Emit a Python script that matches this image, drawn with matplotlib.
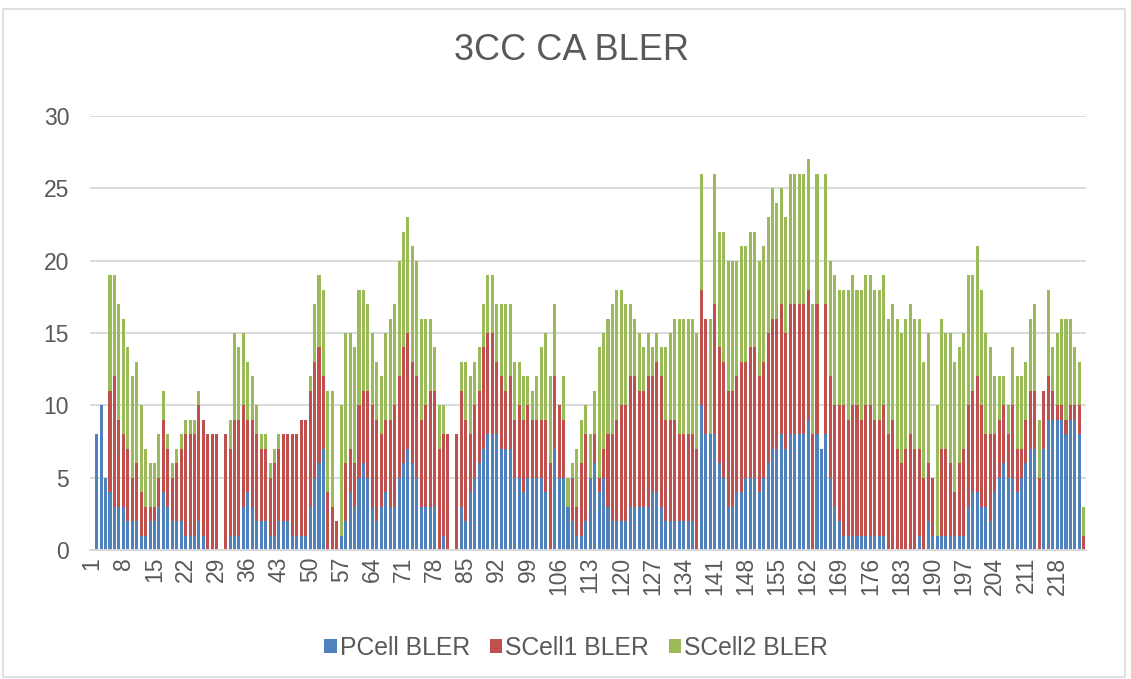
import numpy as np
import matplotlib
matplotlib.use("Agg")
import matplotlib.pyplot as plt
from matplotlib.patches import Rectangle

# categories 1..224, category 1 has no data
pcell = [0, 8, 10, 5, 4, 3, 3, 3, 2, 2, 2, 1, 1, 2, 2, 3, 4, 3, 2, 2,
         2, 1, 1, 1, 2, 1, 0, 0, 0, 0, 0, 1, 1, 1, 3, 4, 3, 2, 2, 2,
         1, 1, 2, 2, 2, 1, 1, 1, 1, 3, 5, 6, 7, 0, 0, 0, 1, 2, 4, 3,
         5, 6, 5, 3, 2, 3, 4, 3, 3, 5, 6, 7, 6, 5, 3, 3, 3, 3, 0, 1,
         0, 0, 0, 3, 2, 4, 5, 6, 7, 8, 8, 8, 7, 7, 7, 5, 5, 4, 5, 5,
         5, 5, 4, 0, 7, 5, 5, 3, 2, 1, 1, 2, 5, 6, 4, 5, 3, 2, 2, 2,
         2, 3, 3, 3, 3, 3, 4, 4, 3, 2, 2, 2, 2, 2, 2, 2, 0, 10, 8, 8,
         8, 6, 5, 3, 3, 4, 4, 5, 5, 5, 4, 5, 6, 7, 7, 8, 7, 8, 8, 8,
         8, 9, 0, 8, 7, 8, 5, 3, 2, 1, 1, 1, 1, 1, 1, 1, 1, 1, 1, 0,
         0, 0, 0, 0, 0, 0, 1, 0, 2, 1, 1, 1, 1, 1, 1, 1, 1, 3, 4, 4,
         3, 3, 2, 4, 5, 6, 5, 5, 4, 5, 6, 7, 7, 0, 7, 9, 9, 9, 9, 8,
         9, 9, 8, 0]
scell1 = [0, 0, 0, 0, 7, 9, 6, 5, 5, 3, 4, 3, 2, 1, 1, 2, 5, 4, 3, 4,
          5, 7, 7, 7, 8, 8, 8, 8, 8, 0, 8, 6, 8, 8, 7, 5, 6, 6, 5, 5,
          4, 5, 5, 6, 6, 7, 7, 8, 8, 8, 8, 8, 5, 4, 3, 2, 0, 4, 3, 3,
          5, 5, 6, 7, 7, 5, 5, 6, 7, 7, 8, 8, 7, 7, 6, 7, 8, 8, 7, 7,
          8, 0, 8, 8, 7, 4, 5, 5, 7, 7, 7, 5, 5, 4, 5, 4, 5, 5, 5, 4,
          4, 4, 5, 6, 5, 5, 4, 0, 3, 2, 5, 6, 0, 2, 1, 2, 5, 6, 7, 8,
          8, 9, 9, 8, 8, 9, 8, 9, 9, 7, 7, 7, 6, 6, 6, 6, 7, 8, 8, 0,
          9, 8, 8, 8, 8, 8, 9, 8, 9, 9, 8, 8, 9, 9, 9, 9, 8, 9, 9, 9,
          9, 9, 8, 9, 0, 9, 7, 7, 8, 9, 8, 9, 9, 8, 9, 9, 8, 8, 9, 8,
          9, 7, 6, 7, 8, 7, 6, 5, 4, 4, 0, 6, 6, 5, 3, 5, 6, 7, 7, 8,
          7, 5, 6, 4, 4, 4, 3, 5, 3, 2, 3, 4, 4, 5, 4, 3, 2, 1, 1, 1,
          1, 1, 2, 1]
scell2 = [0, 0, 0, 0, 8, 7, 8, 8, 7, 7, 7, 6, 4, 3, 3, 3, 2, 1, 1, 1,
          1, 1, 1, 1, 1, 0, 0, 0, 0, 0, 0, 2, 6, 5, 5, 4, 3, 2, 1, 1,
          1, 1, 1, 0, 0, 0, 0, 0, 0, 1, 4, 5, 6, 7, 8, 0, 9, 9, 8, 8,
          8, 7, 6, 5, 4, 4, 6, 7, 7, 8, 8, 8, 8, 8, 7, 6, 5, 3, 3, 2,
          0, 0, 0, 2, 4, 4, 3, 3, 3, 4, 4, 4, 5, 6, 5, 4, 3, 3, 2, 2,
          3, 5, 6, 6, 5, 0, 3, 2, 1, 4, 3, 2, 3, 3, 9, 8, 8, 9, 9, 8,
          7, 5, 4, 4, 3, 3, 2, 2, 2, 5, 6, 7, 8, 8, 8, 8, 8, 8, 0, 8,
          9, 8, 9, 9, 9, 8, 8, 8, 8, 8, 8, 8, 8, 9, 8, 8, 8, 9, 9, 9,
          9, 9, 9, 9, 0, 9, 8, 9, 8, 8, 9, 9, 8, 9, 9, 9, 9, 9, 9, 8,
          8, 9, 9, 9, 9, 9, 9, 8, 9, 0, 9, 9, 8, 9, 9, 8, 8, 9, 8, 9,
          8, 7, 6, 4, 3, 2, 2, 4, 5, 5, 4, 5, 6, 4, 0, 6, 3, 5, 6, 7,
          6, 4, 3, 2]
names = ["PCell BLER", "SCell1 BLER", "SCell2 BLER"]
colors = ["#4F81BD", "#C0504D", "#9BBB59"]

cats = np.arange(1, len(pcell) + 1)
p = np.array(pcell, dtype=float)
s1 = np.array(scell1, dtype=float)
s2 = np.array(scell2, dtype=float)

txt = "#595959"
plt.rcParams['font.family'] = ['Liberation Sans', 'DejaVu Sans']

W, H = 1131, 679
fig = plt.figure(figsize=(W / 100, H / 100), dpi=100)
fig.patch.set_facecolor("white")
ax = fig.add_axes([90 / W, 1 - 550 / H, (1086 - 90) / W, (550 - 116) / H])

bw = 0.68
ax.bar(cats, p, bw, color=colors[0], label=names[0], zorder=3)
ax.bar(cats, s1, bw, bottom=p, color=colors[1], label=names[1], zorder=3)
ax.bar(cats, s2, bw, bottom=p + s1, color=colors[2], label=names[2], zorder=3)

ax.set_xlim(0.5, len(cats) + 0.5)
ax.set_ylim(0, 30)
ax.set_yticks(np.arange(0, 31, 5))
ax.set_xticks(cats[::7])
ax.set_xticklabels([str(c) for c in cats[::7]], rotation=90)
ax.grid(axis="y", color="#D9D9D9", linewidth=1.4, zorder=0)
ax.tick_params(axis="y", length=0, pad=15, labelsize=16.5, labelcolor=txt)
ax.tick_params(axis="x", length=0, pad=5, labelsize=16.5, labelcolor=txt)
for sp in ["top", "right", "left"]:
    ax.spines[sp].set_visible(False)
ax.spines["bottom"].set_color("#D9D9D9")
ax.spines["bottom"].set_linewidth(1.4)
ax.spines["bottom"].set_zorder(4)

fig.text(572 / W, 1 - 50 / H, "3CC CA BLER", ha="center", va="center",
         fontsize=26, color=txt)

fig.legend(loc="center", bbox_to_anchor=(576 / W, 1 - 648 / H), ncol=3,
           frameon=False, fontsize=17.8, labelcolor=txt, handlelength=0.5,
           handleheight=0.5, handletextpad=0.12, columnspacing=0.8)

fig.patches.append(Rectangle((3 / W, 1 - 677 / H), 1122 / W, 668 / H,
                             transform=fig.transFigure, fill=False,
                             edgecolor="#D9D9D9", linewidth=1.2))

fig.savefig("out.png", dpi=100)
